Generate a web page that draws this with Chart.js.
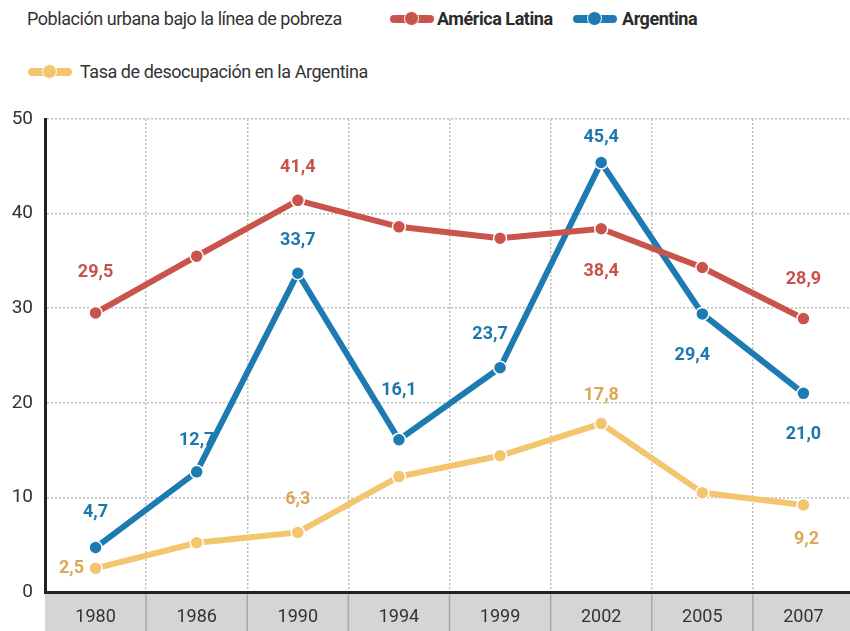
<!DOCTYPE html>
<html lang="es">
<head>
<meta charset="utf-8">
<title>Pobreza urbana y desocupación</title>
<script src="https://cdn.jsdelivr.net/npm/chart.js@4.4.1/dist/chart.umd.min.js"></script>
<style>
  html, body { margin: 0; padding: 0; background: #fff; overflow: hidden; }
  body { width: 850px; height: 631px; position: relative;
    font-family: Roboto, "Noto Sans", sans-serif; color: #333; }
  .lg { position: absolute; font-size: 18px; line-height: 20px; white-space: nowrap;
    letter-spacing: -0.45px; }
  .lg b { font-weight: 700; color: #2b2b2b; }
  .mk { position: absolute; width: 44px; height: 16px; }
  .mk .bar { position: absolute; left: 0; right: 0; top: 4px; height: 8px; border-radius: 4px; }
  .mk .dot { position: absolute; left: 14px; top: 0; width: 13px; height: 13px;
    border-radius: 50%; border: 1.5px solid #fff; }
  #wrap { position: absolute; left: 0; top: 0; width: 862px; height: 650px; }
</style>
</head>
<body>
<div class="lg" style="left:27px; top:9px;">Población urbana bajo la línea de pobreza</div>
<div class="mk" style="left:390px; top:11px;"><div class="bar" style="background:#c9544c"></div><div class="dot" style="background:#c9544c"></div></div>
<div class="lg" style="left:437px; top:9px;"><b>América Latina</b></div>
<div class="mk" style="left:573px; top:11px;"><div class="bar" style="background:#1e7bb1"></div><div class="dot" style="background:#1e7bb1"></div></div>
<div class="lg" style="left:622px; top:9px;"><b>Argentina</b></div>
<div class="mk" style="left:28px; top:64px;"><div class="bar" style="background:#f3c56f"></div><div class="dot" style="background:#f3c56f"></div></div>
<div class="lg" style="left:80px; top:62px;">Tasa de desocupación en la Argentina</div>
<div id="wrap"><canvas id="c"></canvas></div>
<script>
// data
const years = ['1980', '1986', '1990', '1994', '1999', '2002', '2005', '2007'];
const americaLatina = [29.5, 35.5, 41.4, 38.6, 37.4, 38.4, 34.3, 28.9];
const argentina = [4.7, 12.7, 33.7, 16.1, 23.7, 45.4, 29.4, 21.0];
const desocupacion = [2.5, 5.2, 6.3, 12.2, 14.4, 17.8, 10.5, 9.2];
const yTicks = [0, 10, 20, 30, 40, 50];

// which points carry a value label, and where it sits relative to the point
const labelSpots = {
  0: { 0: [0, -40], 2: [0, -33], 5: [0, 43], 7: [0, -39] },
  1: { 0: [0, -35], 1: [0, -31], 2: [0, -33], 3: [0, -49], 4: [-10, -33],
       5: [0, -25], 6: [-10, 42], 7: [0, 41] },
  2: { 0: [-24, 0], 2: [0, -33], 5: [0, -28], 7: [3, 35] }
};
const labelColors = ['#c8524a', '#1d77ae', '#dba955'];

function fmt(v) { return v.toFixed(1).replace('.', ','); }

const bandPlugin = {
  id: 'yearBand',
  beforeDraw: function (chart) {
    const a = chart.chartArea, x = chart.scales.x, ctx = chart.ctx;
    ctx.save();
    ctx.fillStyle = '#d4d5d7';
    ctx.fillRect(a.left, a.bottom, a.right - a.left, chart.height - a.bottom);
    ctx.strokeStyle = '#a8a9ab';
    ctx.lineWidth = 1.5;
    for (let i = 0; i < years.length - 1; i++) {
      const bx = (x.getPixelForValue(i) + x.getPixelForValue(i + 1)) / 2;
      ctx.beginPath();
      ctx.moveTo(bx, a.bottom);
      ctx.lineTo(bx, chart.height);
      ctx.stroke();
    }
    ctx.restore();
  }
};

const valueLabelPlugin = {
  id: 'valueLabels',
  afterDatasetsDraw: function (chart) {
    const ctx = chart.ctx;
    ctx.save();
    ctx.font = 'bold 18px Roboto, "Noto Sans", sans-serif';
    ctx.textAlign = 'center';
    ctx.textBaseline = 'middle';
    chart.data.datasets.forEach(function (ds, di) {
      const spots = labelSpots[di];
      const meta = chart.getDatasetMeta(di);
      ctx.fillStyle = labelColors[di];
      Object.keys(spots).forEach(function (k) {
        const p = meta.data[k];
        ctx.fillText(fmt(ds.data[k]), p.x + spots[k][0], p.y + spots[k][1]);
      });
    });
    ctx.restore();
  }
};

function series(label, data, color, order) {
  return {
    label: label, data: data, order: order,
    borderColor: color, backgroundColor: color,
    borderWidth: 6, tension: 0,
    pointRadius: 6.5, pointHoverRadius: 6.5,
    pointBackgroundColor: color, pointBorderColor: '#fff', pointBorderWidth: 1.5
  };
}

new Chart(document.getElementById('c'), {
  type: 'line',
  data: {
    labels: years,
    datasets: [
      series('América Latina', americaLatina, '#c9544c', 1),
      series('Argentina', argentina, '#1e7bb1', 2),
      series('Tasa de desocupación en la Argentina', desocupacion, '#f3c56f', 3)
    ]
  },
  options: {
    responsive: true,
    maintainAspectRatio: false,
    animation: false,
    layout: { padding: { top: 119, left: 0, right: 0, bottom: 0 } },
    plugins: { legend: { display: false }, tooltip: { enabled: false } },
    scales: {
      x: {
        offset: true,
        grid: { offset: true, color: '#bdbdbd', lineWidth: 1.5, drawTicks: false },
        border: { display: true, color: '#222', width: 3, dash: [2, 2] },
        ticks: { color: '#333', padding: 15, font: { family: 'Roboto', size: 18 } },
        afterFit: function (s) { s.height = 58; }
      },
      y: {
        min: 0, max: 50,
        afterBuildTicks: function (s) { s.ticks = yTicks.map(function (v) { return { value: v }; }); },
        grid: { color: '#bdbdbd', lineWidth: 1.5, drawTicks: false },
        border: { display: true, color: '#222', width: 3, dash: [2, 2] },
        ticks: { color: '#333', padding: 12, font: { family: 'Roboto', size: 19 } },
        afterFit: function (s) { s.width = 45; }
      }
    }
  },
  plugins: [bandPlugin, valueLabelPlugin]
});
</script>
</body>
</html>
